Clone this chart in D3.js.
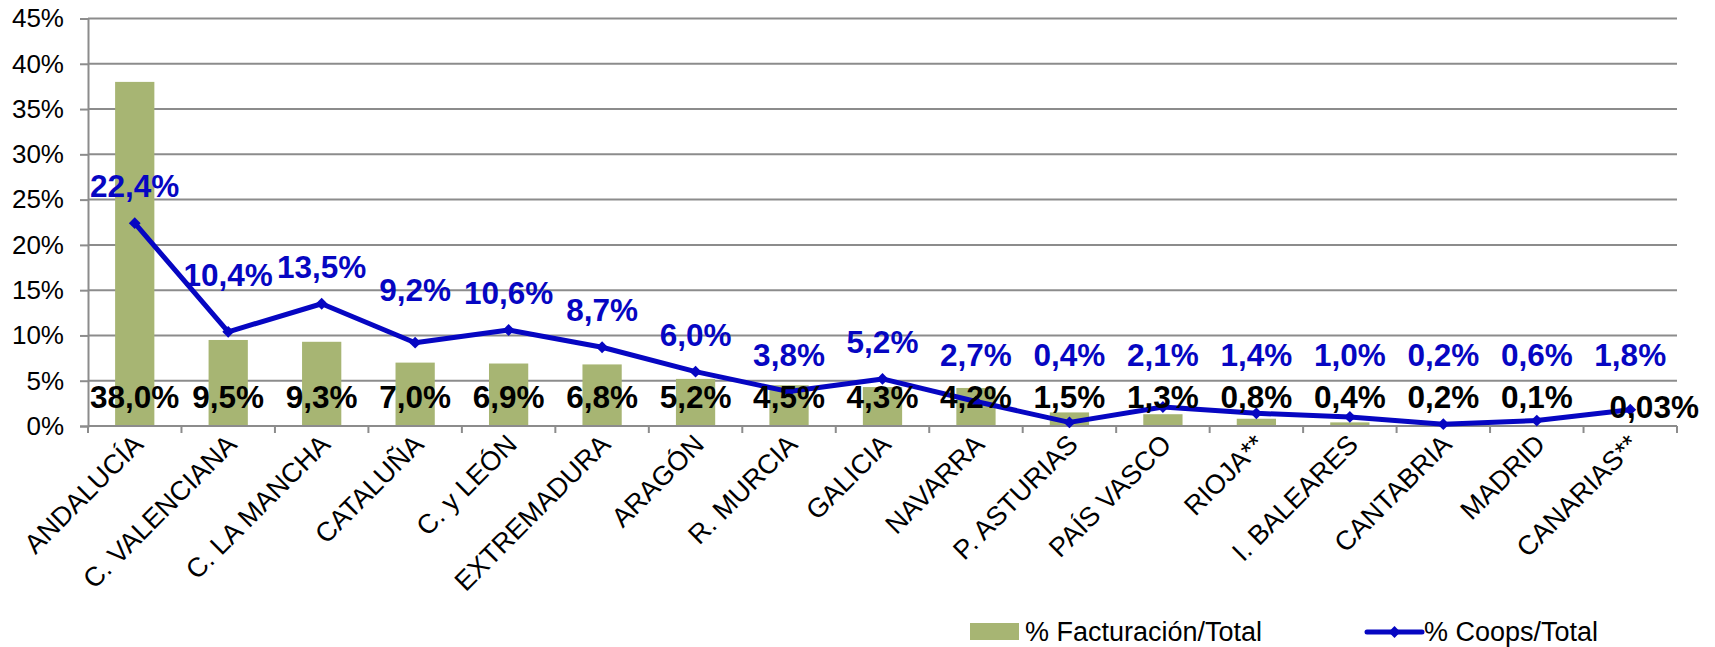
<!DOCTYPE html>
<html>
<head>
<meta charset="utf-8">
<script src="https://cdn.jsdelivr.net/npm/d3@7"></script>
<style>
  body { margin: 0; background: #fff; }
  text { font-family: Arial, "Liberation Sans", sans-serif; }
</style>
</head>
<body>
<div id="chart"></div>
<script>
// datos
var regiones = ["ANDALUCÍA", "C. VALENCIANA", "C. LA MANCHA", "CATALUÑA", "C. y LEÓN", "EXTREMADURA",
  "ARAGÓN", "R. MURCIA", "GALICIA", "NAVARRA", "P. ASTURIAS", "PAÍS VASCO", "RIOJA**",
  "I. BALEARES", "CANTABRIA", "MADRID", "CANARIAS**"];
var facturacion = [38.0, 9.5, 9.3, 7.0, 6.9, 6.8, 5.2, 4.5, 4.3, 4.2, 1.5, 1.3, 0.8, 0.4, 0.2, 0.1, 0.03];
var factLabels = ["38,0%", "9,5%", "9,3%", "7,0%", "6,9%", "6,8%", "5,2%", "4,5%", "4,3%", "4,2%",
  "1,5%", "1,3%", "0,8%", "0,4%", "0,2%", "0,1%", "0,03%"];
var coops = [22.4, 10.4, 13.5, 9.2, 10.6, 8.7, 6.0, 3.8, 5.2, 2.7, 0.4, 2.1, 1.4, 1.0, 0.2, 0.6, 1.8];
var yTicks = [0, 5, 10, 15, 20, 25, 30, 35, 40, 45];
var series = ["% Facturación/Total", "% Coops/Total"];

var barColor = "#a7b573";
var lineColor = "#0606c2";

var margin = {top: 18.5, right: 38, bottom: 221, left: 88},
    width = 1715 - margin.left - margin.right,
    height = 647 - margin.top - margin.bottom;

var svg = d3.select("#chart").append("svg")
  .attr("width", 1715)
  .attr("height", 647);

var g = svg.append("g")
  .attr("transform", "translate(" + margin.left + "," + margin.top + ")");

var x = d3.scaleBand().domain(regiones).range([0, width]).padding(0);
var y = d3.scaleLinear().domain([0, 45]).range([height, 0]);
var bw = x.bandwidth();
function cx(d) { return x(d) + bw / 2; }

// rejilla
g.append("g").selectAll("line")
  .data(yTicks.slice(1))
  .enter().append("line")
  .attr("x1", 0).attr("x2", width)
  .attr("y1", function(d) { return y(d); })
  .attr("y2", function(d) { return y(d); })
  .attr("stroke", "#8c8c8c")
  .attr("stroke-width", 2);

// eje y
var yAxis = g.append("g")
  .call(d3.axisLeft(y).tickValues(yTicks).tickSize(8).tickPadding(16)
    .tickFormat(function(d) { return d + "%"; }));
yAxis.select(".domain").attr("stroke", "#8c8c8c").attr("stroke-width", 2);
yAxis.selectAll(".tick line").attr("stroke", "#8c8c8c").attr("stroke-width", 2);
yAxis.selectAll(".tick text")
  .attr("font-size", 26)
  .attr("fill", "#000")
  .style("font-family", "Arial, 'Liberation Sans', sans-serif");

// barras
g.append("g").selectAll("rect")
  .data(facturacion)
  .enter().append("rect")
  .attr("x", function(d, i) { return x(regiones[i]) + bw * 0.29; })
  .attr("width", bw * 0.42)
  .attr("y", function(d) { return y(d); })
  .attr("height", function(d) { return height - y(d); })
  .attr("fill", barColor);

// eje x
g.append("line")
  .attr("x1", 0).attr("x2", width)
  .attr("y1", height).attr("y2", height)
  .attr("stroke", "#8c8c8c").attr("stroke-width", 2);
g.append("g").selectAll("line")
  .data(d3.range(regiones.length + 1))
  .enter().append("line")
  .attr("x1", function(i) { return i * x.step(); })
  .attr("x2", function(i) { return i * x.step(); })
  .attr("y1", height).attr("y2", height + 7)
  .attr("stroke", "#8c8c8c").attr("stroke-width", 2);

g.append("g").selectAll("text")
  .data(regiones)
  .enter().append("text")
  .attr("transform", function(d) {
    return "translate(" + (cx(d) + 10) + "," + (height + 20) + ") rotate(-45)";
  })
  .attr("text-anchor", "end")
  .attr("font-size", 27)
  .text(function(d) { return d; });

// linea
var line = d3.line()
  .x(function(d, i) { return cx(regiones[i]); })
  .y(function(d) { return y(d); });

g.append("path")
  .datum(coops)
  .attr("d", line)
  .attr("fill", "none")
  .attr("stroke", lineColor)
  .attr("stroke-width", 5)
  .attr("stroke-linejoin", "round");

var diamond = d3.symbol().type(d3.symbolSquare).size(70);
g.append("g").selectAll("path")
  .data(coops)
  .enter().append("path")
  .attr("d", diamond)
  .attr("transform", function(d, i) {
    return "translate(" + cx(regiones[i]) + "," + y(d) + ") rotate(45)";
  })
  .attr("fill", lineColor);

// etiquetas de las barras
g.append("g").selectAll("text")
  .data(factLabels)
  .enter().append("text")
  .attr("x", function(d, i) { return cx(regiones[i]) + (i == regiones.length - 1 ? 24 : 0); })
  .attr("y", function(d, i) { return y(2) + (i == regiones.length - 1 ? 10 : 0); })
  .attr("text-anchor", "middle")
  .attr("font-size", 31.5)
  .attr("font-weight", "bold")
  .attr("fill", "#000")
  .text(function(d) { return d; });

// etiquetas de la linea
var lift = {1: -20, 3: -16};
g.append("g").selectAll("text")
  .data(coops)
  .enter().append("text")
  .attr("x", function(d, i) { return cx(regiones[i]); })
  .attr("y", function(d, i) { return Math.min(y(d) - 26, y(6.6)) + (lift[i] || 0); })
  .attr("text-anchor", "middle")
  .attr("font-size", 31.5)
  .attr("font-weight", "bold")
  .attr("fill", lineColor)
  .text(function(d) { return d.toFixed(1).replace(".", ",") + "%"; });

// leyenda
var leg = svg.append("g");
leg.append("rect")
  .attr("x", 970).attr("y", 623)
  .attr("width", 49).attr("height", 17)
  .attr("fill", barColor);
leg.append("text")
  .attr("x", 1025).attr("y", 641)
  .attr("font-size", 27)
  .text(series[0]);
leg.append("line")
  .attr("x1", 1367).attr("x2", 1422)
  .attr("y1", 632).attr("y2", 632)
  .attr("stroke", lineColor).attr("stroke-width", 5)
  .attr("stroke-linecap", "round");
leg.append("path")
  .attr("d", diamond)
  .attr("transform", "translate(1394.5,632) rotate(45)")
  .attr("fill", lineColor);
leg.append("text")
  .attr("x", 1424).attr("y", 641)
  .attr("font-size", 27)
  .text(series[1]);
</script>
</body>
</html>
